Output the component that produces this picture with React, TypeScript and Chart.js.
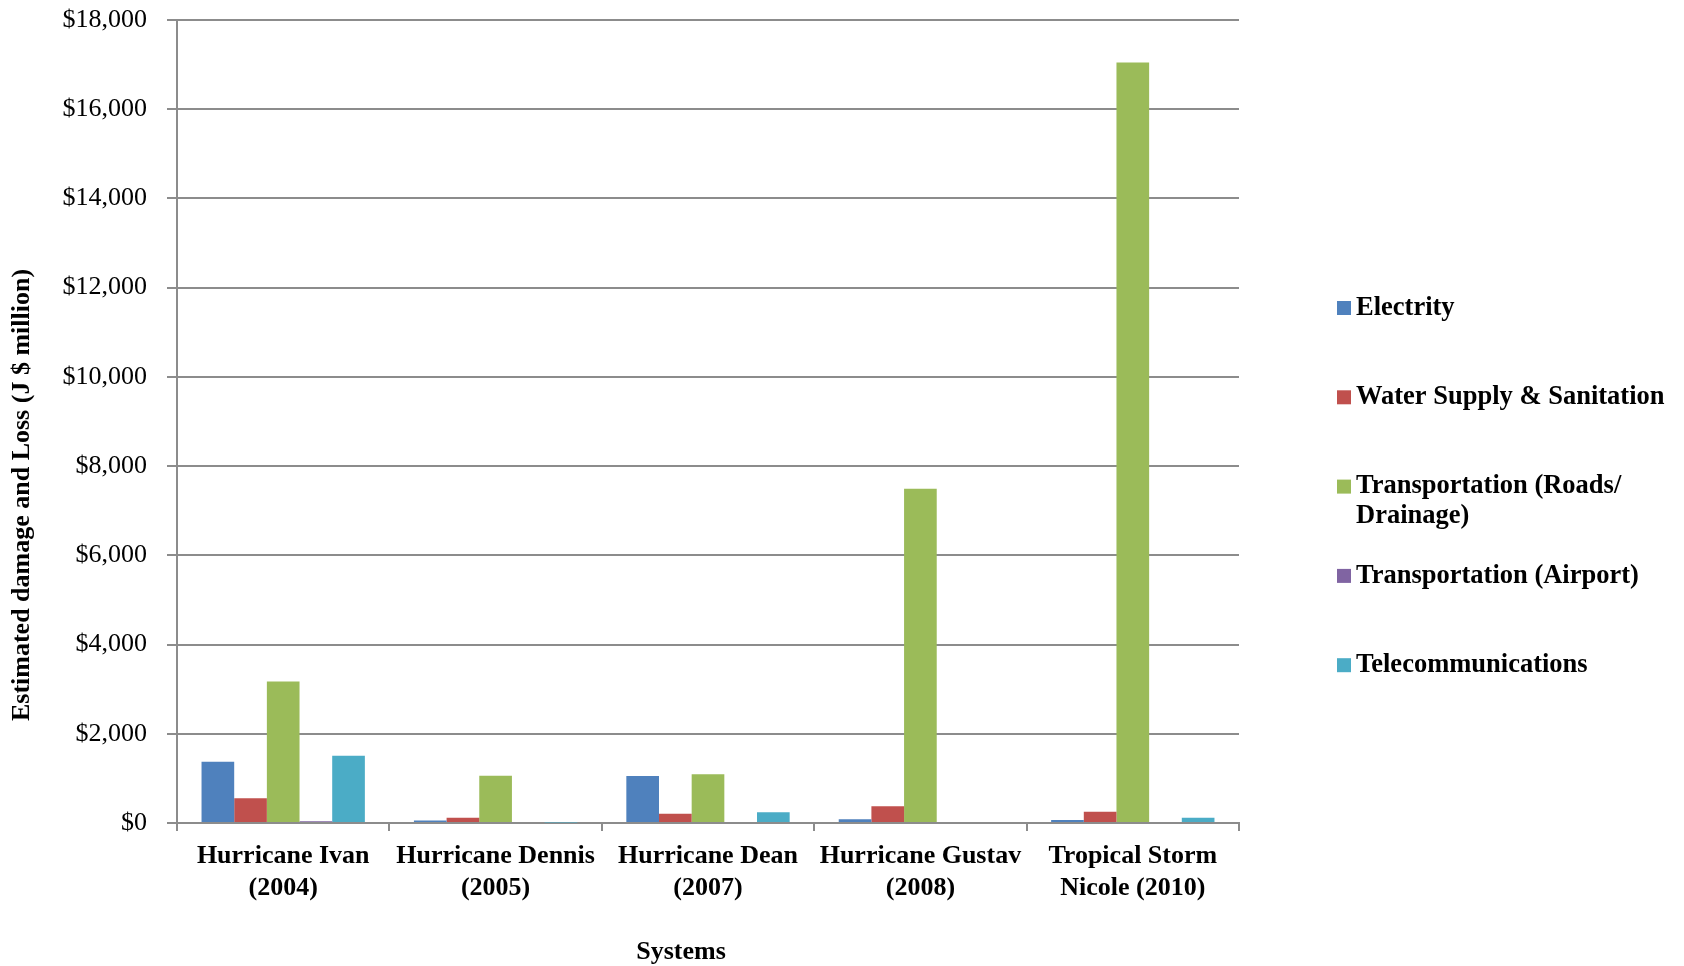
import React, { useEffect, useRef } from "react";
import { Chart, registerables } from "chart.js";

Chart.register(...registerables);

const categories: string[][] = [
  ["Hurricane Ivan", "(2004)"],
  ["Hurricane Dennis", "(2005)"],
  ["Hurricane Dean", "(2007)"],
  ["Hurricane Gustav", "(2008)"],
  ["Tropical Storm", "Nicole (2010)"],
];

const electricity = [1375, 55, 1055, 85, 70];
const waterSupply = [555, 115, 205, 375, 250];
const roadsDrainage = [3170, 1060, 1092, 7490, 17050];
const airport = [40, 0, 0, 0, 0];
const telecom = [1505, 10, 240, 0, 115];

const seriesNames: string[][] = [
  ["Electrity"],
  ["Water Supply & Sanitation"],
  ["Transportation (Roads/", "Drainage)"],
  ["Transportation (Airport)"],
  ["Telecommunications"],
];
const seriesColors = ["#4F81BD", "#C0504D", "#9BBB59", "#8064A2", "#4BACC6"];

const yMax = 18000;
const yStep = 2000;
const yTitle = "Estimated damage and Loss (J $ million)";
const xTitle = "Systems";

const SERIF = "'Liberation Serif', 'Times New Roman', serif";
const GRAY = "#8c8c8c";

export default function App() {
  const canvasRef = useRef<HTMLCanvasElement | null>(null);

  useEffect(() => {
    const canvas = canvasRef.current;
    if (!canvas) return;
    const values = [electricity, waterSupply, roadsDrainage, airport, telecom];

    const decor = {
      id: "decor",
      afterDraw(chart: any) {
        const ctx = chart.ctx as CanvasRenderingContext2D;
        ctx.save();
        ctx.fillStyle = "#000";
        ctx.font = `bold 26px ${SERIF}`;
        ctx.textAlign = "center";
        ctx.textBaseline = "middle";
        // y title
        ctx.save();
        ctx.translate(22, 495);
        ctx.rotate(-Math.PI / 2);
        ctx.fillText(yTitle, 0, 0);
        ctx.restore();
        // x title
        ctx.fillText(xTitle, 681, 952);
        // legend
        ctx.textAlign = "left";
        ctx.font = `bold 26.5px ${SERIF}`;
        const startY = 308;
        const gap = 89.3;
        seriesNames.forEach((lines, i) => {
          const cy = startY + i * gap;
          ctx.fillStyle = seriesColors[i];
          ctx.fillRect(1337, cy - 7, 14, 14);
          ctx.fillStyle = "#000";
          lines.forEach((line, j) => {
            ctx.fillText(line, 1356, cy + j * 30);
          });
        });
        ctx.restore();
      },
    };

    const chart = new Chart(canvas, {
      type: "bar",
      data: {
        labels: categories,
        datasets: seriesNames.map((n, i) => ({
          label: n.join(" "),
          data: values[i],
          backgroundColor: seriesColors[i],
          borderWidth: 0,
          categoryPercentage: 0.769,
          barPercentage: 1,
        })),
      },
      options: {
        responsive: false,
        animation: false,
        layout: { padding: { left: 0, right: 445, top: 20, bottom: 0 } },
        plugins: {
          legend: { display: false },
          tooltip: { enabled: false },
        },
        scales: {
          x: {
            afterFit: (s: any) => {
              s.height = 143;
              s.paddingLeft = 0;
              s.paddingRight = 0;
            },
            grid: {
              display: true,
              drawOnChartArea: false,
              drawTicks: true,
              tickLength: 8,
              color: GRAY,
              lineWidth: 2,
            },
            border: { display: true, color: GRAY, width: 2 },
            ticks: {
              color: "#000",
              font: { family: SERIF, size: 26, weight: "bold", lineHeight: 1.2 },
              maxRotation: 0,
              autoSkip: false,
              padding: 10,
            },
          },
          y: {
            min: 0,
            max: yMax,
            afterFit: (s: any) => {
              s.width = 177;
              s.paddingTop = 0;
              s.paddingBottom = 0;
            },
            grid: {
              color: GRAY,
              lineWidth: 2,
              drawTicks: true,
              tickLength: 10,
            },
            border: { display: true, color: GRAY, width: 2 },
            ticks: {
              stepSize: yStep,
              color: "#000",
              padding: 20,
              font: { family: SERIF, size: 26 },
              callback: (v: any) => "$" + Number(v).toLocaleString("en-US"),
            },
          },
        },
      },
      plugins: [decor],
    } as any);

    return () => chart.destroy();
  }, []);

  return (
    <div style={{ position: "absolute", left: 0, top: 0, width: 1684, height: 966, background: "#fff" }}>
      <canvas ref={canvasRef} width={1684} height={966} style={{ display: "block" }} />
    </div>
  );
}
